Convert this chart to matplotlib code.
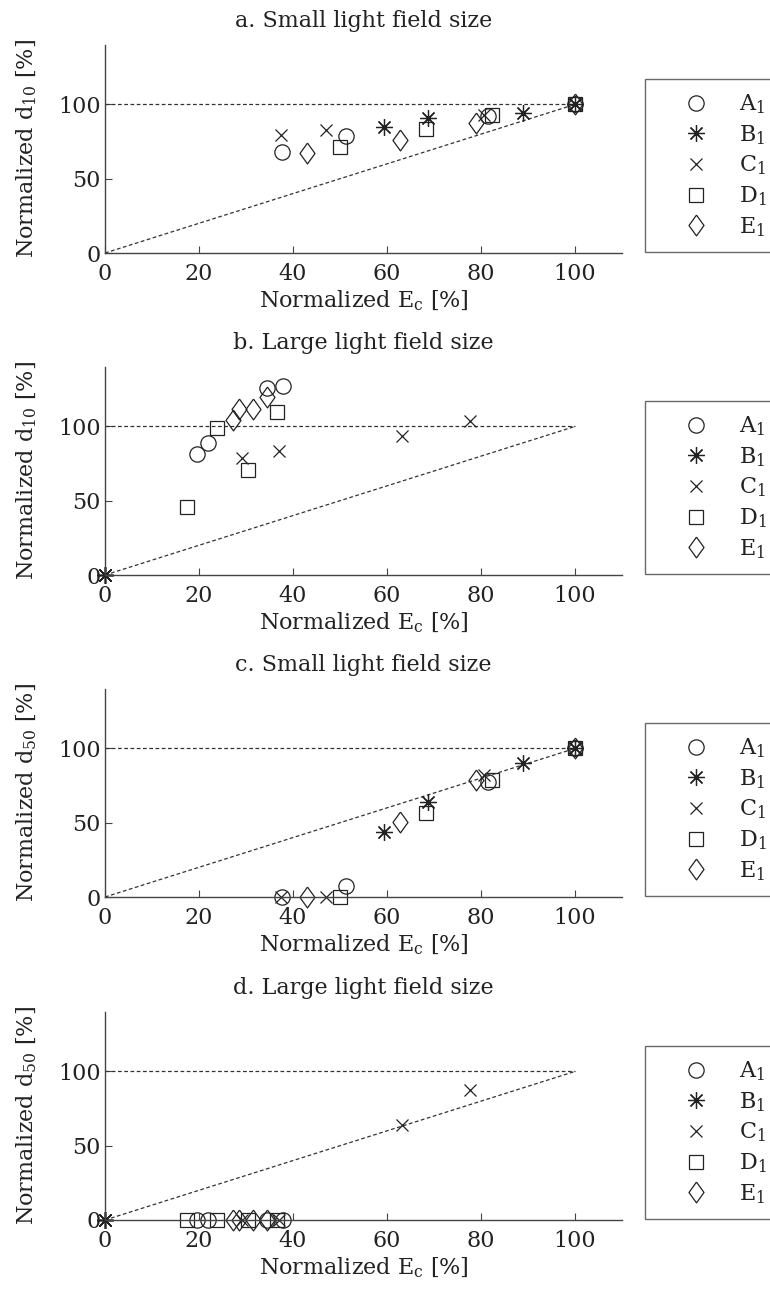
import numpy as np
import matplotlib.pyplot as plt
from matplotlib.lines import Line2D

plt.rcParams['font.family'] = ['DejaVu Serif']
plt.rcParams['mathtext.fontset'] = 'dejavuserif'

# data (x = normalized Ec, y = normalized depth)
titles = ['a. Small light field size', 'b. Large light field size',
          'c. Small light field size', 'd. Large light field size']
ylabels = [r'Normalized d$_{10}$ [%]', r'Normalized d$_{10}$ [%]',
           r'Normalized d$_{50}$ [%]', r'Normalized d$_{50}$ [%]']
series = ['A', 'B', 'C', 'D', 'E']

# small field Ec (panels a, c)
small_x = {'A': [37.6, 51.2, 81.5, 100],
           'B': [59.4, 68.8, 88.9, 100],
           'C': [37.4, 47.1, 80.6, 100],
           'D': [50.1, 68.3, 82.3, 100],
           'E': [42.9, 62.8, 79.0, 100]}
small_d10 = {'A': [68, 79, 92, 100],
             'B': [84.6, 90.6, 94, 100],
             'C': [79.4, 83, 93, 100],
             'D': [71.6, 83.2, 92.8, 100],
             'E': [67, 76, 87.7, 100]}
small_d50 = {'A': [0, 7.7, 77.5, 100],
             'B': [43.7, 64, 90, 100],
             'C': [0, 0, 82, 100],
             'D': [0, 56.5, 79, 100],
             'E': [0, 50.4, 79, 100]}

# large field Ec (panels b, d)
large_x = {'A': [19.5, 22.0, 34.4, 37.8],
           'B': [0, 0, 0, 0],
           'C': [29.1, 37.1, 63.1, 77.7],
           'D': [17.4, 23.8, 30.5, 36.7],
           'E': [27.2, 28.6, 31.4, 34.5]}
large_d10 = {'A': [81.3, 89, 126, 127],
             'B': [0, 0, 0, 0],
             'C': [79, 83.5, 93.6, 103.8],
             'D': [46, 99, 70.4, 110],
             'E': [104, 112, 112, 120]}
large_d50 = {'A': [0, 0, 0, 0],
             'B': [0, 0, 0, 0],
             'C': [0, 0, 64, 87.2],
             'D': [0, 0, 0, 0],
             'E': [0, 0, 0, 0]}

panels = [(small_x, small_d10), (large_x, large_d10),
          (small_x, small_d50), (large_x, large_d50)]

diamond = [(0, 1), (0.72, 0), (0, -1), (-0.72, 0), (0, 1)]
markers = {'A': ('o', 11), 'B': ((8, 2, 0), 12), 'C': ('x', 9),
           'D': ('s', 10), 'E': (diamond, 15)}
ink = '#222222'

W, H = 770, 1289
fig = plt.figure(figsize=(W / 100, H / 100), dpi=100)

bottoms = [253, 575, 897, 1220]
ax_left, ax_w, ax_h = 105, 517, 208

for i, (xs, ys) in enumerate(panels):
    b = bottoms[i]
    ax = fig.add_axes([ax_left / W, 1 - b / H, ax_w / W, ax_h / H])
    ax.plot([0, 100], [100, 100], ls=(0, (3, 2)), color='#333333', lw=0.9)
    ax.plot([0, 100], [0, 100], ls=(0, (3, 2)), color='#333333', lw=0.9)
    for s in series:
        m, ms = markers[s]
        ax.plot(xs[s], ys[s], ls='none', marker=m, ms=ms, mfc='none',
                mec=ink, mew=0.9, clip_on=False)
    ax.set_xlim(0, 110)
    ax.set_ylim(0, 140)
    ax.set_xticks([0, 20, 40, 60, 80, 100])
    ax.set_yticks([0, 50, 100])
    ax.spines['top'].set_visible(False)
    ax.spines['right'].set_visible(False)
    for sp in ['left', 'bottom']:
        ax.spines[sp].set_color('#444444')
        ax.spines[sp].set_linewidth(1.0)
    ax.tick_params(direction='in', length=5, width=0.8, colors='#444444',
                   labelsize=16, labelcolor=ink)
    ax.tick_params(axis='x', pad=7)
    ax.tick_params(axis='y', pad=3)
    ax.set_xlabel(r'Normalized E$_\mathrm{c}$ [%]', fontsize=16, color=ink,
                  labelpad=3)
    ax.set_ylabel(ylabels[i], fontsize=16, color=ink, labelpad=14)
    ax.set_title(titles[i], fontsize=16, color=ink, pad=13)

    handles = [Line2D([], [], ls='none', marker=markers[s][0],
                      ms=markers[s][1], mfc='none', mec=ink, mew=0.9)
               for s in series]
    labels = [r'$\mathrm{%s}_1$' % s for s in series]
    top = b - ax_h + 34
    leg = fig.legend(handles, labels, loc='upper left',
                     bbox_to_anchor=(645 / W, 0, 0.3, 1 - top / H),
                     bbox_transform=fig.transFigure, mode='expand',
                     borderaxespad=0, fancybox=False, fontsize=16,
                     borderpad=0.6, labelspacing=0.32, handlelength=3.35,
                     handletextpad=0.3)
    leg.get_frame().set_edgecolor('#444444')
    leg.get_frame().set_linewidth(1.0)
    for t in leg.get_texts():
        t.set_color(ink)

fig.savefig('out.png', dpi=100)
